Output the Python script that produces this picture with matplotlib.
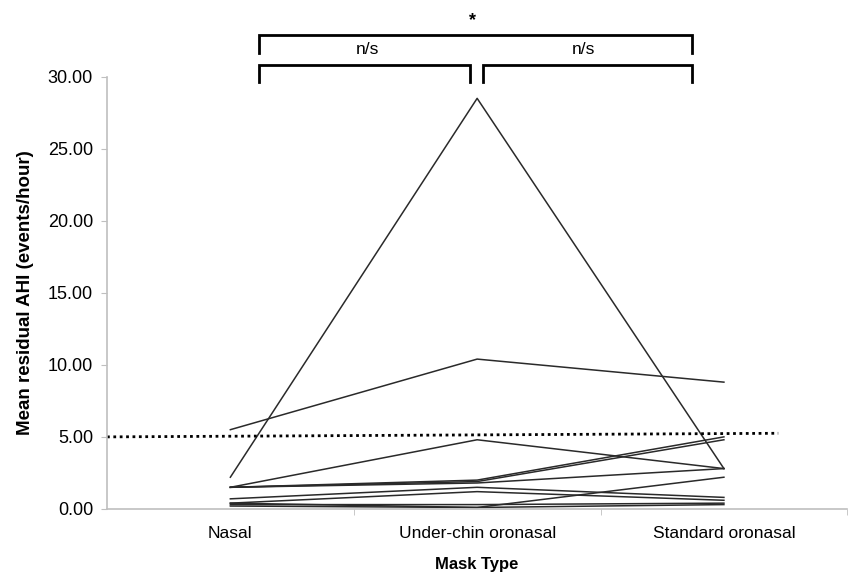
"""Residual AHI per patient across three mask types."""

import matplotlib
matplotlib.use("Agg")
from matplotlib import pyplot as plt

masks = ["Nasal", "Under-chin oronasal", "Standard oronasal"]

# one list per patient: nasal, under-chin, standard
patients = [
    [5.5, 10.4, 8.8],
    [2.2, 28.5, 2.8],
    [1.5, 4.8, 2.8],
    [1.5, 2.0, 5.0],
    [1.5, 1.9, 4.8],
    [1.5, 1.8, 2.8],
    [0.7, 1.5, 0.8],
    [0.4, 1.2, 0.6],
    [0.4, 0.1, 2.2],
    [0.3, 0.3, 0.4],
    [0.2, 0.1, 0.3],
]

threshold = [5.0, 5.25]
yticks = [0, 5, 10, 15, 20, 25, 30]


def bracket(ax, x0, x1, y, leg):
    ax.plot([x0, x0, x1, x1], [y - leg, y, y, y - leg], color="black",
            lw=2, clip_on=False, solid_joinstyle="miter")


def main():
    plt.rcParams["font.family"] = ["Liberation Sans", "DejaVu Sans"]
    fig = plt.figure(figsize=(8.49, 5.77), dpi=100)
    ax = fig.add_axes([0.126, 0.118, 0.872, 0.749])

    xs = list(range(len(masks)))
    for vals in patients:
        ax.plot(xs, vals, color="#2a2a2a", lw=1.1)

    ax.plot([-0.5, 2.22], threshold, color="black", lw=2, ls=(0, (1, 1.3)))

    ax.set_xlim(-0.5, 2.5)
    ax.set_ylim(0, 30)
    ax.set_yticks(yticks)
    ax.set_yticklabels([f"{v:.2f}" for v in yticks], fontsize=13)
    ax.set_xticks(xs)
    ax.set_xticklabels(masks, fontsize=12.5)
    ax.set_xticks([0.5, 1.5, 2.5], minor=True)
    ax.tick_params(axis="x", which="major", length=0, pad=12)
    ax.tick_params(axis="x", which="minor", length=4, color="#bfbfbf")
    ax.tick_params(axis="y", length=4, color="#bfbfbf", pad=6)

    for side in ("top", "right"):
        ax.spines[side].set_visible(False)
    for side in ("left", "bottom"):
        ax.spines[side].set_color("#bfbfbf")
        ax.spines[side].set_linewidth(1.2)

    ax.set_ylabel("Mean residual AHI (events/hour)", fontsize=13.5,
                  fontweight="bold", labelpad=10)
    ax.set_xlabel("Mask Type", fontsize=12, fontweight="bold", labelpad=12)

    # significance brackets
    bracket(ax, 0.116, 1.871, 32.9, 1.25)
    ax.text(0.98, 33.9, "*", ha="center", va="center", fontsize=13,
            fontweight="bold", clip_on=False)
    bracket(ax, 0.116, 0.971, 30.83, 1.18)
    bracket(ax, 1.023, 1.871, 30.83, 1.18)
    for xc in (0.555, 1.43):
        ax.text(xc, 31.9, "n/s", ha="center", va="center", fontsize=12.5,
                clip_on=False)

    fig.savefig("out.png", dpi=100)


if __name__ == "__main__":
    main()
